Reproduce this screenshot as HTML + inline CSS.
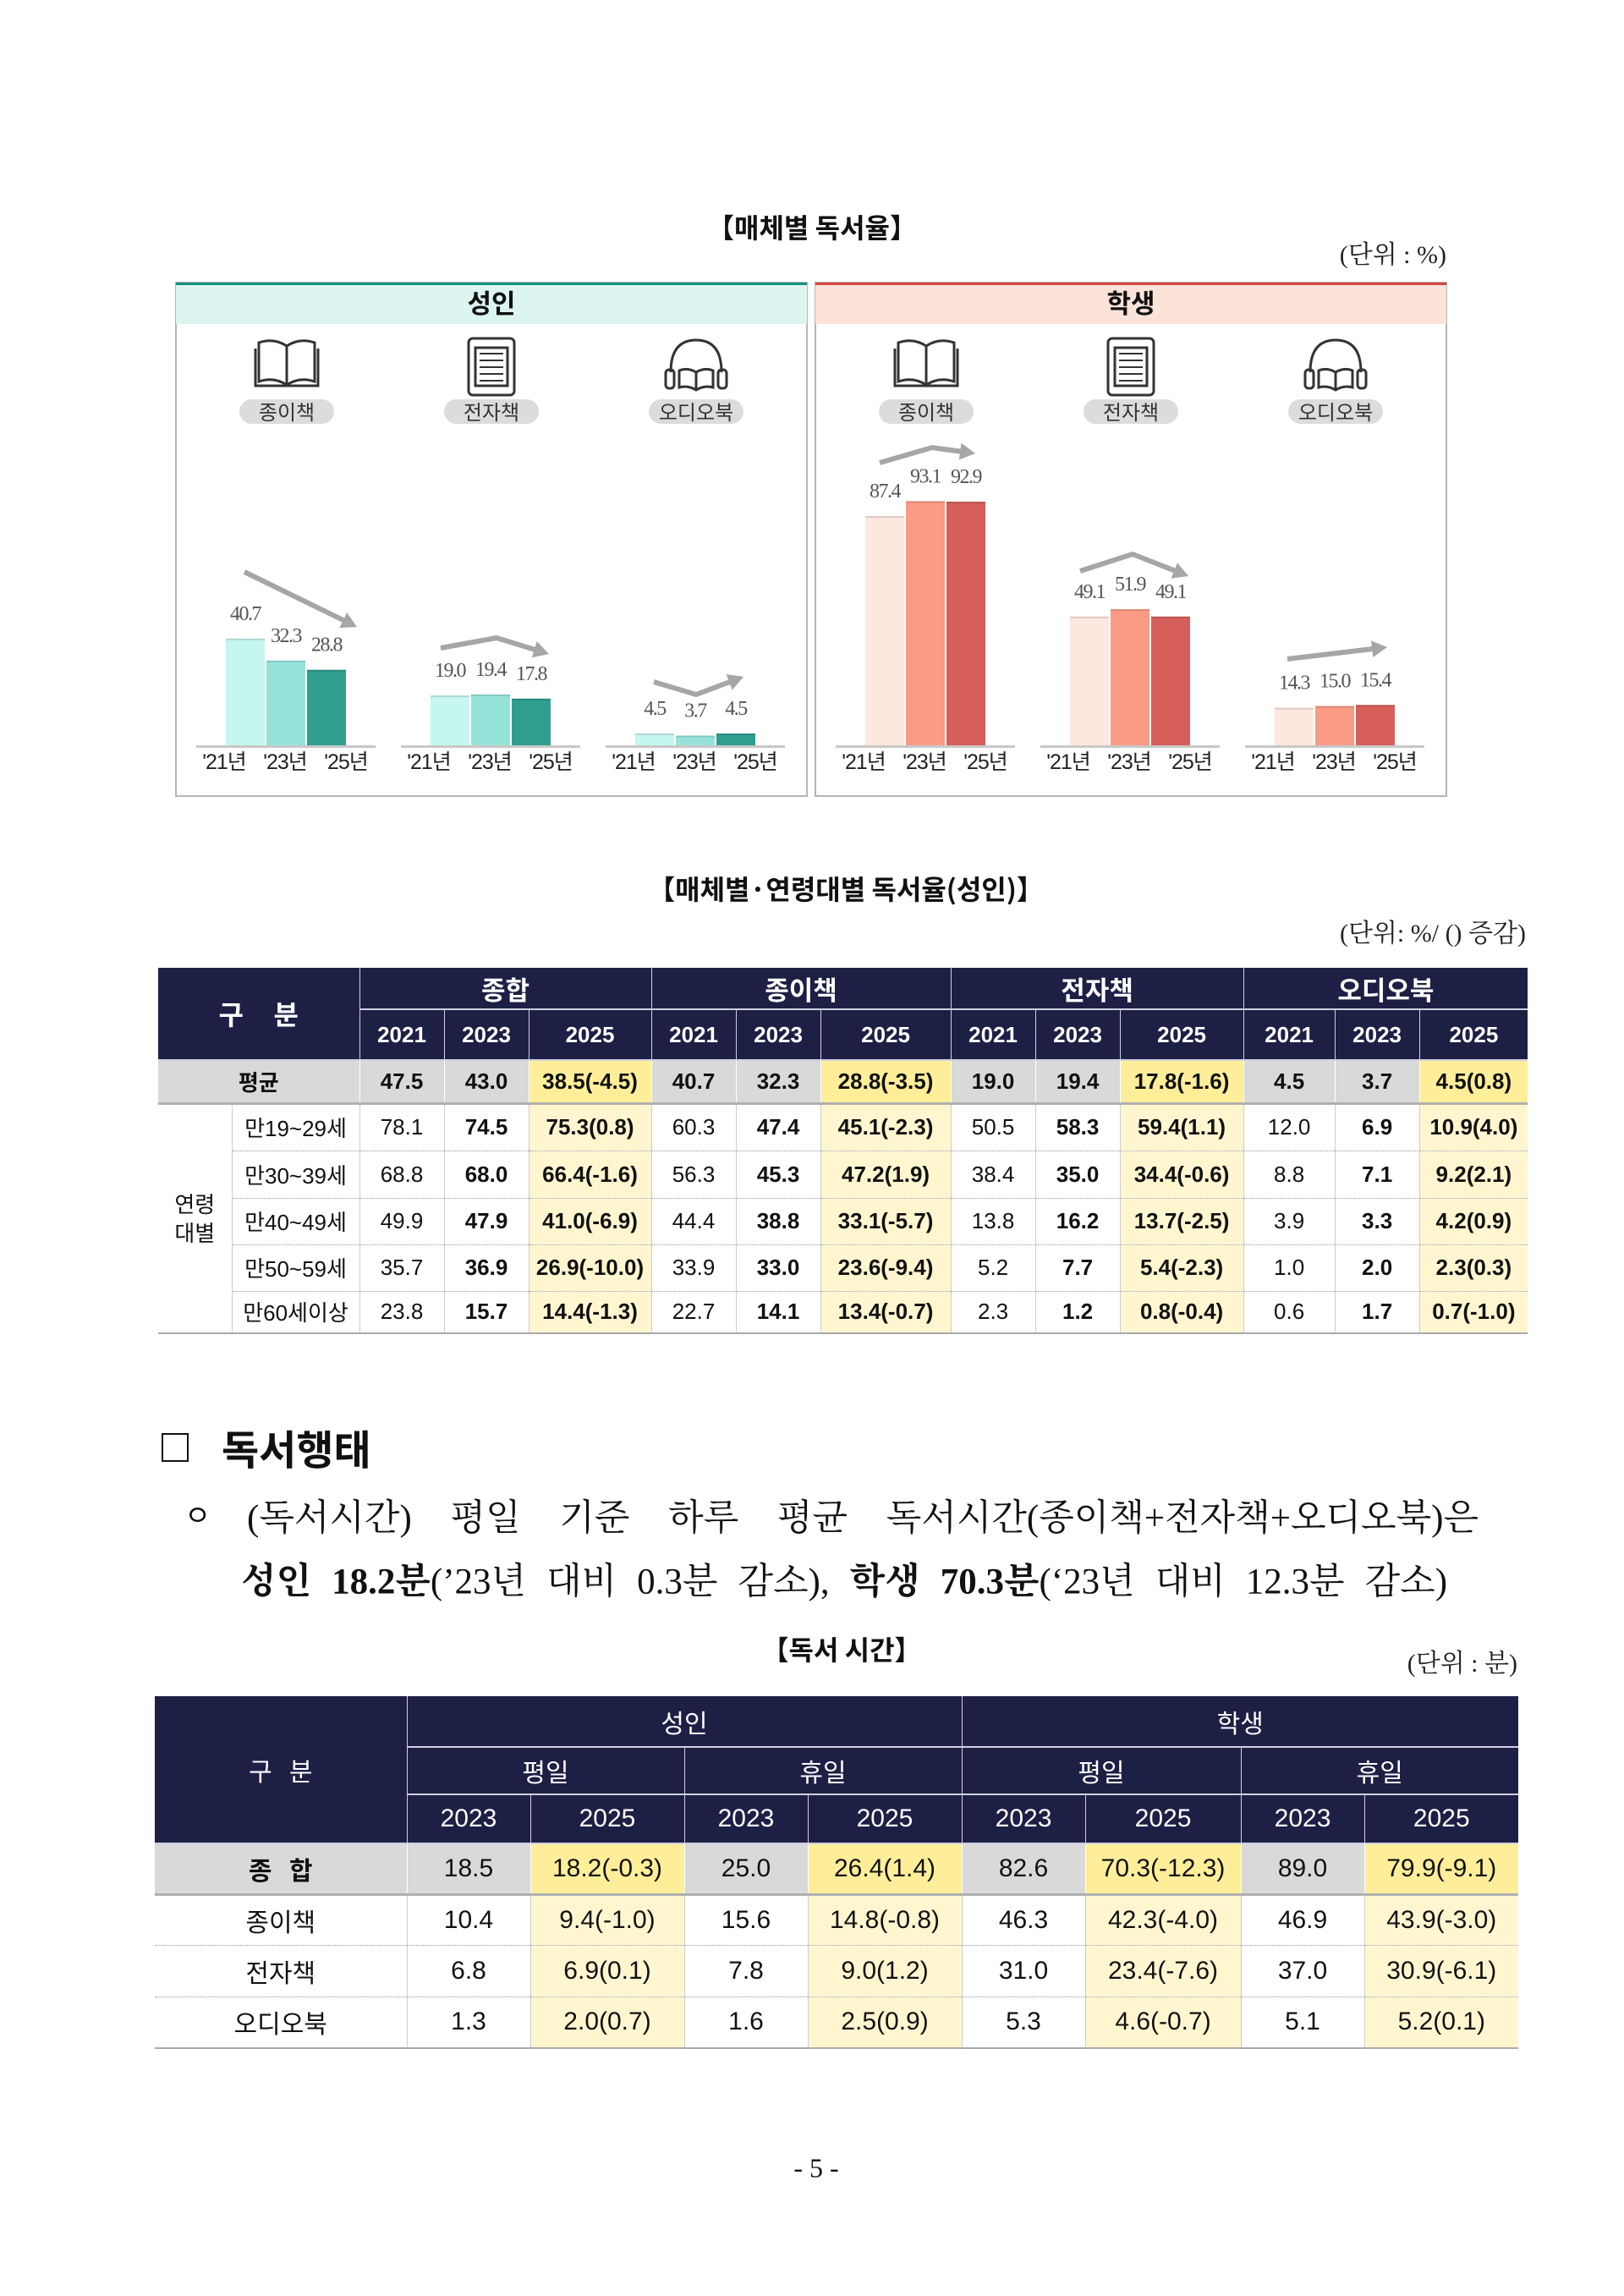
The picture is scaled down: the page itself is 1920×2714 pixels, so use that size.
<!DOCTYPE html>
<html><head><meta charset="utf-8">
<style>
body{margin:0;background:#fff;}
#page{position:relative;width:1920px;height:2714px;background:#fff;overflow:hidden;font-family:"Liberation Sans","Noto Sans CJK KR",sans-serif;color:#111;}
.abs{position:absolute;}
.ttl{font-family:"Noto Sans CJK KR",sans-serif;font-weight:bold;font-size:32px;white-space:nowrap;transform:translate(-50%,-50%);}
.unit{font-family:"Liberation Serif","Noto Serif CJK SC",serif;font-size:30px;white-space:nowrap;transform:translateY(-50%);color:#222;}
table{border-collapse:collapse;table-layout:fixed;position:absolute;}
td{padding:0;text-align:center;vertical-align:middle;white-space:nowrap;overflow:hidden;}
.t1 td{font-family:"Liberation Sans Narrow","Liberation Sans","Noto Sans CJK KR",sans-serif;font-size:26px;}
.hd td{background:#1e1f45;color:#fff;font-weight:bold;border-left:1px solid #d0d0e0;border-bottom:2px solid #d0d0e0;}
.avg td{background:#d9d9d9;font-weight:bold;border-bottom:3px solid #b0b0b0;border-left:1px solid #fff;}
.avg td.hl{background:#ffee99;}
.bd td{border-bottom:1px dotted #999;border-left:1px solid #ccc;}
.bd td.hl{background:#fff6d0;}
.bd td.b{font-weight:bold;}
.t2 td{font-family:"Liberation Sans Narrow","Liberation Sans","Noto Sans CJK KR",sans-serif;font-size:30px;}
.t2 .hd td{font-weight:normal;}
</style></head><body>
<div id="page">

<div class="abs ttl" style="left:960px;top:268px;">【매체별 독서율】</div>
<div class="abs unit" style="right:210px;top:298px;">(단위 : %)</div>

<svg class="abs" style="left:0;top:0;" width="1920" height="1000" id="chart"></svg>

<div class="abs ttl" style="left:1000px;top:1050px;">【매체별·연령대별 독서율(성인)】</div>
<div class="abs unit" style="right:116px;top:1100px;">(단위: %/ () 증감)</div>

<table class="t1" style="left:187px;top:1144px;width:1619px;">
<colgroup><col style="width:87px"><col style="width:151px"><col style="width:100px"><col style="width:100px"><col style="width:145px"><col style="width:100px"><col style="width:100px"><col style="width:154px"><col style="width:100px"><col style="width:100px"><col style="width:146px"><col style="width:108px"><col style="width:100px"><col style="width:128px"></colgroup>
<tr class="hd" style="height:49px"><td colspan="2" rowspan="2" style="font-size:32px;border-left:none">구&nbsp;&nbsp;&nbsp;&nbsp;분</td><td colspan="3" style="font-size:31px">종합</td><td colspan="3" style="font-size:31px">종이책</td><td colspan="3" style="font-size:31px">전자책</td><td colspan="3" style="font-size:31px">오디오북</td></tr>
<tr class="hd" style="height:60px"><td>2021</td><td>2023</td><td>2025</td><td>2021</td><td>2023</td><td>2025</td><td>2021</td><td>2023</td><td>2025</td><td>2021</td><td>2023</td><td>2025</td></tr>
<tr class="avg" style="height:51px"><td colspan="2" style="border-left:none">평균</td><td>47.5</td><td>43.0</td><td class="hl">38.5(-4.5)</td><td>40.7</td><td>32.3</td><td class="hl">28.8(-3.5)</td><td>19.0</td><td>19.4</td><td class="hl">17.8(-1.6)</td><td>4.5</td><td>3.7</td><td class="hl">4.5(0.8)</td></tr>
<tr class="bd" style="height:56px"><td rowspan="5" style="border-left:none;border-bottom:2px solid #aaa;font-family:'Noto Sans CJK KR',sans-serif;font-size:26px;line-height:1.3">연령<br>대별</td><td>만19~29세</td><td>78.1</td><td class="b">74.5</td><td class="hl b">75.3(0.8)</td><td>60.3</td><td class="b">47.4</td><td class="hl b">45.1(-2.3)</td><td>50.5</td><td class="b">58.3</td><td class="hl b">59.4(1.1)</td><td>12.0</td><td class="b">6.9</td><td class="hl b">10.9(4.0)</td></tr>
<tr class="bd" style="height:56px"><td>만30~39세</td><td>68.8</td><td class="b">68.0</td><td class="hl b">66.4(-1.6)</td><td>56.3</td><td class="b">45.3</td><td class="hl b">47.2(1.9)</td><td>38.4</td><td class="b">35.0</td><td class="hl b">34.4(-0.6)</td><td>8.8</td><td class="b">7.1</td><td class="hl b">9.2(2.1)</td></tr>
<tr class="bd" style="height:55px"><td>만40~49세</td><td>49.9</td><td class="b">47.9</td><td class="hl b">41.0(-6.9)</td><td>44.4</td><td class="b">38.8</td><td class="hl b">33.1(-5.7)</td><td>13.8</td><td class="b">16.2</td><td class="hl b">13.7(-2.5)</td><td>3.9</td><td class="b">3.3</td><td class="hl b">4.2(0.9)</td></tr>
<tr class="bd" style="height:55px"><td>만50~59세</td><td>35.7</td><td class="b">36.9</td><td class="hl b">26.9(-10.0)</td><td>33.9</td><td class="b">33.0</td><td class="hl b">23.6(-9.4)</td><td>5.2</td><td class="b">7.7</td><td class="hl b">5.4(-2.3)</td><td>1.0</td><td class="b">2.0</td><td class="hl b">2.3(0.3)</td></tr>
<tr class="bd" style="height:50px;"><td style="border-bottom:2px solid #aaa">만60세이상</td><td style="border-bottom:2px solid #aaa">23.8</td><td class="b" style="border-bottom:2px solid #aaa">15.7</td><td class="hl b" style="border-bottom:2px solid #aaa">14.4(-1.3)</td><td style="border-bottom:2px solid #aaa">22.7</td><td class="b" style="border-bottom:2px solid #aaa">14.1</td><td class="hl b" style="border-bottom:2px solid #aaa">13.4(-0.7)</td><td style="border-bottom:2px solid #aaa">2.3</td><td class="b" style="border-bottom:2px solid #aaa">1.2</td><td class="hl b" style="border-bottom:2px solid #aaa">0.8(-0.4)</td><td style="border-bottom:2px solid #aaa">0.6</td><td class="b" style="border-bottom:2px solid #aaa">1.7</td><td class="hl b" style="border-bottom:2px solid #aaa">0.7(-1.0)</td></tr>
</table>

<div class="abs" style="left:191px;top:1694px;width:28px;height:30px;border:2px solid #111;"></div>
<div class="abs" style="left:262px;top:1710px;transform:translateY(-50%);font-family:'Noto Sans CJK KR',sans-serif;font-weight:bold;font-size:48px;white-space:nowrap;">독서행태</div>
<div class="abs" style="left:218px;top:1789px;transform:translateY(-50%);font-family:'Noto Sans CJK KR',sans-serif;font-size:34px;">ㅇ</div>
<div class="abs" style="left:292px;top:1791px;width:1456px;transform:translateY(-50%);font-family:'Liberation Serif','Noto Serif CJK SC',serif;font-size:43px;white-space:nowrap;text-align:justify;text-align-last:justify;">(독서시간) 평일 기준 하루 평균 독서시간(종이책+전자책+오디오북)은</div>
<div class="abs" style="left:285px;top:1866px;width:1426px;transform:translateY(-50%);font-family:'Liberation Serif','Noto Serif CJK SC',serif;font-size:43px;white-space:nowrap;text-align:justify;text-align-last:justify;"><b>성인 18.2분</b>(’23년 대비 0.3분 감소), <b>학생 70.3분</b>(‘23년 대비 12.3분 감소)</div>

<div class="abs ttl" style="left:995px;top:1949px;">【독서 시간】</div>
<div class="abs unit" style="right:126px;top:1963px;">(단위 : 분)</div>

<table class="t2" style="left:183px;top:2005px;width:1612px;">
<colgroup><col style="width:298px"><col style="width:146px"><col style="width:182px"><col style="width:146px"><col style="width:182px"><col style="width:146px"><col style="width:184px"><col style="width:146px"><col style="width:182px"></colgroup>
<tr class="hd" style="height:60px"><td rowspan="3" style="border-left:none;font-family:'Noto Sans CJK KR',sans-serif">구&nbsp;&nbsp;&nbsp;분</td><td colspan="4" style="font-family:'Noto Sans CJK KR',sans-serif">성인</td><td colspan="4" style="font-family:'Noto Sans CJK KR',sans-serif">학생</td></tr>
<tr class="hd" style="height:56px"><td colspan="2" style="font-family:'Noto Sans CJK KR',sans-serif">평일</td><td colspan="2" style="font-family:'Noto Sans CJK KR',sans-serif">휴일</td><td colspan="2" style="font-family:'Noto Sans CJK KR',sans-serif">평일</td><td colspan="2" style="font-family:'Noto Sans CJK KR',sans-serif">휴일</td></tr>
<tr class="hd" style="height:58px"><td>2023</td><td>2025</td><td>2023</td><td>2025</td><td>2023</td><td>2025</td><td>2023</td><td>2025</td></tr>
<tr class="avg" style="height:60px"><td style="border-left:none;font-family:'Noto Sans CJK KR',sans-serif">종&nbsp;&nbsp;&nbsp;합</td><td style="font-weight:normal">18.5</td><td class="hl" style="font-weight:normal">18.2(-0.3)</td><td style="font-weight:normal">25.0</td><td class="hl" style="font-weight:normal">26.4(1.4)</td><td style="font-weight:normal">82.6</td><td class="hl" style="font-weight:normal">70.3(-12.3)</td><td style="font-weight:normal">89.0</td><td class="hl" style="font-weight:normal">79.9(-9.1)</td></tr>
<tr class="bd" style="height:60px"><td style="border-left:none;font-family:'Noto Sans CJK KR',sans-serif">종이책</td><td>10.4</td><td class="hl">9.4(-1.0)</td><td>15.6</td><td class="hl">14.8(-0.8)</td><td>46.3</td><td class="hl">42.3(-4.0)</td><td>46.9</td><td class="hl">43.9(-3.0)</td></tr>
<tr class="bd" style="height:61px"><td style="border-left:none;font-family:'Noto Sans CJK KR',sans-serif">전자책</td><td>6.8</td><td class="hl">6.9(0.1)</td><td>7.8</td><td class="hl">9.0(1.2)</td><td>31.0</td><td class="hl">23.4(-7.6)</td><td>37.0</td><td class="hl">30.9(-6.1)</td></tr>
<tr class="bd" style="height:61px"><td style="border-left:none;border-bottom:2px solid #aaa;font-family:'Noto Sans CJK KR',sans-serif">오디오북</td><td style="border-bottom:2px solid #aaa">1.3</td><td class="hl" style="border-bottom:2px solid #aaa">2.0(0.7)</td><td style="border-bottom:2px solid #aaa">1.6</td><td class="hl" style="border-bottom:2px solid #aaa">2.5(0.9)</td><td style="border-bottom:2px solid #aaa">5.3</td><td class="hl" style="border-bottom:2px solid #aaa">4.6(-0.7)</td><td style="border-bottom:2px solid #aaa">5.1</td><td class="hl" style="border-bottom:2px solid #aaa">5.2(0.1)</td></tr>
</table>

<div class="abs" style="left:965px;top:2563px;transform:translate(-50%,-50%);font-family:'Liberation Serif',serif;font-size:32px;white-space:nowrap;">- 5 -</div>
</div>

<script>
const years = ["'21년", "'23년", "'25년"];
const media = ["종이책", "전자책", "오디오북"];
const adultValues = [[40.7, 32.3, 28.8], [19.0, 19.4, 17.8], [4.5, 3.7, 4.5]];
const studentValues = [[87.4, 93.1, 92.9], [49.1, 51.9, 49.1], [14.3, 15.0, 15.4]];

const NS = "http://www.w3.org/2000/svg";
const svg = document.getElementById("chart");
function mk(tag, attrs, parent) {
  const e = document.createElementNS(NS, tag);
  for (const k in attrs) e.setAttribute(k, attrs[k]);
  (parent || svg).appendChild(e);
  return e;
}
const baseY = 881, pxPer = 3.1;
function yScale(v) { return baseY - v * pxPer; }
const barW = 46, barStep = 48;
const panelW = 746;

const panels = [
  {x: 208, name: "성인", vals: adultValues, band: "#dcf5f1", top: "#16917f", colors: ["#c6f6f0", "#96e3d9", "#2f9e8f"], key: "adult"},
  {x: 964, name: "학생", vals: studentValues, band: "#fbe3d9", top: "#d9443f", colors: ["#fde8df", "#f99b85", "#d65f5c"], key: "student"}
];
// decorative trend arrows (offsets relative to group start)
const arrowShapes = [
  [[[22, 676], [155, 741]], [[12, 766], [78, 754], [140, 773]], [[22, 806], [72, 821], [128, 800]]],
  [[[17, 547], [79, 529], [130, 536]], [[12, 675], [74, 655], [140, 681]], [[15, 779], [133, 765]]]
];

panels.forEach((p, pi) => {
  const g = mk("g", {});
  
  
  const frame = mk("rect", {x: p.x, y: 334, width: panelW, height: 607, fill: "#fff", stroke: "#b5b5b5", "stroke-width": 2}, g);
  
  
  const band = mk("rect", {x: p.x, y: 336, width: panelW, height: 47, fill: p.band}, g);
  
  
  mk("rect", {x: p.x, y: 334, width: panelW, height: 3, fill: p.top}, g);
  const ht = mk("text", {x: p.x + panelW / 2, y: 370, "text-anchor": "middle", "font-size": 31, "font-weight": "bold", "font-family": "Noto Sans CJK KR, sans-serif", fill: "#111"}, g);
  ht.textContent = p.name;
  
  

  p.vals.forEach((grp, gi) => {
    const gx = p.x + 59 + gi * 242;
    const cx = gx + 72;
    const ic = mk("g", {fill: "none", stroke: "#333", "stroke-width": 3}, g);
    
    
    if (gi === 0) {
      mk("path", {d: `M${cx-37} 412 v44 h74 v-44 M${cx-33} 405 q18 -6 33 4 q15 -10 33 -4 v46 q-18 -6 -33 4 q-15 -10 -33 -4 z M${cx} 409 v46`}, ic);
    } else if (gi === 1) {
      mk("rect", {x: cx - 27, y: 400, width: 54, height: 67, rx: 5}, ic);
      mk("rect", {x: cx - 19, y: 411, width: 38, height: 45}, ic);
      for (let k = 0; k < 5; k++) mk("line", {x1: cx - 14, x2: cx + 14, y1: 418 + k * 8, y2: 418 + k * 8, "stroke-width": 2}, ic);
    } else {
      mk("path", {d: `M${cx-30} 440 q0 -38 30 -38 q30 0 30 38`}, ic);
      mk("rect", {x: cx - 36, y: 437, width: 10, height: 22, rx: 4}, ic);
      mk("rect", {x: cx + 26, y: 437, width: 10, height: 22, rx: 4}, ic);
      mk("path", {d: `M${cx-20} 438 q10 -4 20 2 q10 -6 20 -2 v20 q-10 -3 -20 3 q-10 -6 -20 -3 z M${cx} 440 v20`}, ic);
    }
    const pill = mk("rect", {x: cx - 56, y: 472, width: 112, height: 29, rx: 14.5, fill: "#dcdcdc"}, g);
    
    
    const pt = mk("text", {x: cx, y: 496, "text-anchor": "middle", "font-size": 24, "font-family": "Noto Sans CJK KR, sans-serif", fill: "#333"}, g);
    pt.textContent = media[gi];
    
    

    const bl = mk("line", {x1: gx - 35, x2: gx + 177, y1: baseY + 1.5, y2: baseY + 1.5, stroke: "#c8c8c8", "stroke-width": 3}, g);
    
    

    grp.forEach((v, bi) => {
      const bx = gx + bi * barStep;
      const r = mk("rect", {x: bx, y: yScale(v), width: barW, height: baseY - yScale(v), fill: p.colors[bi]}, g);
      
      
      mk("rect", {x: bx, y: yScale(v), width: barW, height: 2, fill: "rgba(0,0,0,0.12)"}, g);
      const t = mk("text", {x: bx + barW / 2, y: yScale(v) - 22, "text-anchor": "middle", "font-size": 24, "font-family": "Liberation Serif, serif", fill: "#555", "letter-spacing": -1.5}, g);
      t.textContent = v.toFixed(1);
      
      
      const yl = mk("text", {x: gx + 70 + (bi - 1) * 72, y: 909, "text-anchor": "middle", "font-size": 25, "font-family": "Liberation Sans, Noto Sans CJK KR, sans-serif", fill: "#222", "letter-spacing": -1}, g);
      yl.textContent = years[bi];
      
      
    });

    const pts = arrowShapes[pi][gi].map(q => [gx + q[0], q[1]]);
    const n = pts.length;
    const [ax, ay] = pts[n - 1], [bx0, by0] = pts[n - 2];
    const ang = Math.atan2(ay - by0, ax - bx0);
    const shaft = pts.slice(0, n - 1).concat([[ax - 12 * Math.cos(ang), ay - 12 * Math.sin(ang)]]);
    const pl = mk("polyline", {points: shaft.map(q => q.join(",")).join(" "), fill: "none", stroke: "#a6a6a6", "stroke-width": 6}, g);
    
    
    const L = 18, W = 10;
    const hx = ax - L * Math.cos(ang), hy = ay - L * Math.sin(ang);
    mk("polygon", {points: `${ax},${ay} ${hx + W * Math.sin(ang)},${hy - W * Math.cos(ang)} ${hx - W * Math.sin(ang)},${hy + W * Math.cos(ang)}`, fill: "#a6a6a6"}, g);
  });
});
</script>
</body></html>
